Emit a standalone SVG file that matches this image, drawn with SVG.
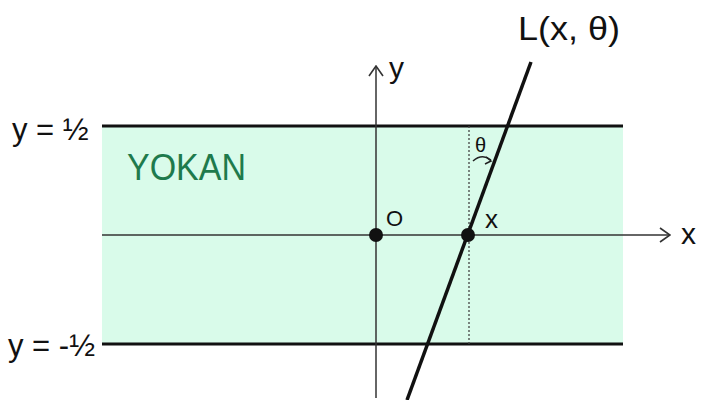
<svg xmlns="http://www.w3.org/2000/svg" width="704" height="400" viewBox="0 0 704 400">
<defs>
<style>
.t{font-family:"Liberation Sans","DejaVu Sans",sans-serif;fill:#111}
.axis{stroke:#333;stroke-width:1.5;fill:none}
.bound{stroke:#111;stroke-width:3;fill:none}
</style>
<marker id="ah" viewBox="0 0 12 16" refX="11" refY="8" markerWidth="12" markerHeight="16" markerUnits="userSpaceOnUse" orient="auto">
<path d="M1 1 L11 8 L1 15" fill="none" stroke="#333" stroke-width="1.6"/>
</marker>
</defs>
<rect width="704" height="400" fill="#fff"/>
<g id="band">
<rect x="102" y="126" width="521" height="218" fill="#d9fbea"/>
<line class="bound" x1="102" y1="126" x2="623" y2="126"/>
<line class="bound" x1="102" y1="344" x2="623" y2="344"/>
<text class="t" x="127" y="180" font-size="36" textLength="119" lengthAdjust="spacingAndGlyphs" style="fill:#1e7a4c">YOKAN</text>
</g>
<g id="connectors">
<line class="axis" x1="102" y1="235" x2="670" y2="235" marker-end="url(#ah)"/>
<line class="axis" x1="376" y1="398" x2="376" y2="66" marker-end="url(#ah)"/>
<line x1="469" y1="126" x2="469" y2="344" stroke="#444" stroke-width="1.3" stroke-dasharray="2 2"/>
<line x1="531" y1="62" x2="407" y2="400" stroke="#111" stroke-width="3.5"/>
<path d="M473 161 Q482 153 491 160" fill="none" stroke="#222" stroke-width="1.5"/>
<path d="M486 157 L491 161 L485 164" fill="none" stroke="#222" stroke-width="1.5"/>
</g>
<g id="origin">
<circle cx="376" cy="235" r="7" fill="#111"/>
<text class="t" x="386" y="226" font-size="22">O</text>
</g>
<g id="point-x">
<circle cx="468" cy="235" r="7" fill="#111"/>
<text class="t" x="485" y="228" font-size="26">x</text>
</g>
<text class="t" x="475" y="152" font-size="20">θ</text>
<text class="t" x="518" y="40" font-size="34" textLength="102" lengthAdjust="spacingAndGlyphs">L(x, θ)</text>
<text class="t" x="389" y="78" font-size="30">y</text>
<text class="t" x="681" y="244" font-size="30">x</text>
<text class="t" x="12" y="140" font-size="31">y = ½</text>
<text class="t" x="8" y="356" font-size="31">y = -½</text>
</svg>
